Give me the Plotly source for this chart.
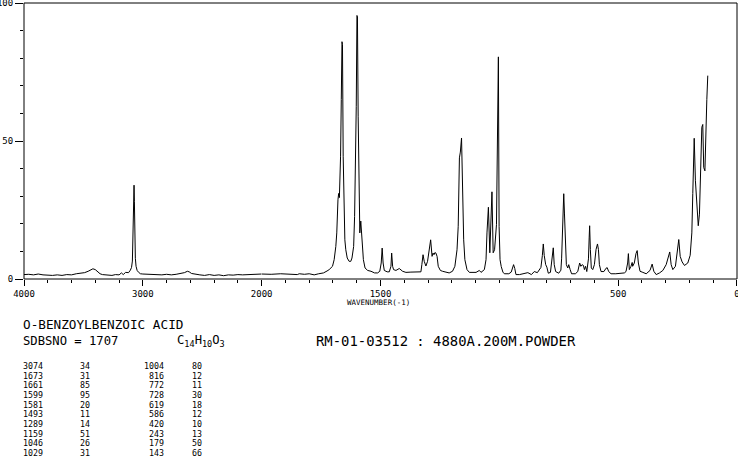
import plotly.graph_objects as go

# ---- spectrum (wavenumber in cm-1, relative intensity) ----
wavenumber = [
    4000, 3960, 3920, 3880, 3840, 3800, 3760, 3720, 3680, 3640, 3600, 3560, 3520, 3490,
    3460, 3440, 3420, 3400, 3380, 3360, 3340, 3300, 3260, 3230, 3200, 3180, 3165, 3145,
    3120, 3105, 3095, 3088, 3082, 3077, 3074, 3071, 3068, 3063, 3057, 3048, 3035, 3020,
    3000, 2960, 2920, 2880, 2840, 2800, 2760, 2720, 2680, 2650, 2625, 2610, 2590, 2560,
    2520, 2480, 2440, 2400, 2360, 2320, 2280, 2240, 2200, 2160, 2120, 2080, 2040, 2000,
    1960, 1920, 1880, 1850, 1842, 1820, 1800, 1779, 1760, 1740, 1725, 1716, 1702, 1695,
    1688, 1684, 1679, 1676, 1673, 1668, 1665, 1662, 1660, 1657, 1654, 1650, 1646, 1640,
    1632, 1625, 1620, 1613, 1609, 1605, 1602, 1599, 1597, 1594, 1591, 1587, 1583, 1580,
    1576, 1572, 1565, 1554, 1540, 1525, 1512, 1503, 1497, 1493, 1489, 1484, 1472, 1463,
    1456, 1453, 1449, 1445, 1435, 1421, 1407, 1393, 1372, 1351, 1330, 1326, 1321, 1316,
    1309, 1302, 1295, 1289, 1283, 1279, 1275, 1271, 1267, 1262, 1257, 1248, 1239, 1224,
    1211, 1197, 1187, 1178, 1173, 1168, 1164, 1159, 1155, 1150, 1145, 1136, 1126, 1112,
    1098, 1084, 1077, 1063, 1056, 1052, 1046, 1040, 1035, 1031, 1026, 1020, 1012, 1008,
    1004, 1001, 997, 992, 985, 979, 960, 950, 944, 940, 935, 930, 915, 900, 880, 865,
    853, 840, 825, 819, 815, 811, 805, 800, 794, 785, 777, 773, 769, 763, 750, 741,
    738, 733, 731, 729, 726, 722, 718, 712, 708, 702, 696, 680, 670, 662, 657, 652,
    646, 642, 637, 632, 625, 622, 620, 617, 613, 607, 600, 593, 587, 583, 579, 572,
    560, 551, 546, 540, 530, 510, 495, 474, 467, 460, 457, 453, 446, 441, 439, 432,
    425, 420, 415, 408, 396, 382, 366, 357, 350, 340, 326, 312, 298, 287, 283, 277,
    270, 259, 252, 245, 239, 231, 221, 207, 197, 190, 186, 183, 180, 175, 169, 163,
    158, 152, 148, 144, 140, 135, 133, 127, 123,
]
intensity = [
    1.6, 1.7, 1.5, 1.8, 1.5, 1.4, 1.3, 1.5, 1.3, 1.6, 1.5, 1.9, 2.0, 2.3,
    2.8, 3.3, 3.7, 3.4, 2.6, 1.9, 1.6, 1.4, 1.3, 1.6, 1.5, 2.2, 1.6, 2.4,
    2.3, 3.2, 4.2, 6.5, 18.0, 33.5, 34.0, 28.0, 12.0, 7.5, 4.6, 3.1, 2.4, 1.9,
    1.8, 1.7, 1.8, 1.6, 1.5, 1.7, 1.5, 1.7, 1.9, 2.3, 2.8, 2.6, 2.0, 1.7,
    1.5, 1.3, 1.6, 1.3, 1.5, 1.2, 1.5, 1.4, 1.6, 1.5, 1.6, 1.7, 1.6, 1.8,
    1.7, 1.9, 1.8, 1.6, 1.9, 1.7, 1.9, 1.5, 1.9, 2.2, 2.9, 3.4, 4.6, 7.0,
    11.8, 16.7, 28.7, 31.0, 29.5, 44.5, 65.0, 86.0, 85.0, 44.5, 23.9, 14.2, 10.6, 7.6,
    6.4, 6.4, 7.6, 11.8, 22.7, 43.3, 62.6, 95.5, 95.0, 59.0, 26.6, 16.7, 21.0, 18.0,
    11.8, 7.0, 4.0, 3.1, 2.8, 2.2, 2.2, 2.8, 5.8, 11.2, 5.8, 3.1, 2.6, 2.6,
    4.6, 9.4, 4.6, 3.4, 3.1, 3.8, 2.8, 2.4, 2.5, 2.5, 2.6, 5.2, 8.8, 6.4,
    4.7, 6.4, 10.6, 14.2, 8.2, 9.4, 8.8, 9.6, 9.4, 8.2, 4.6, 3.1, 2.8, 2.4,
    2.2, 2.8, 4.6, 10.6, 19.1, 43.9, 46.0, 51.1, 32.4, 14.2, 7.0, 3.4, 2.4, 2.4,
    2.4, 3.1, 2.4, 3.4, 7.0, 16.7, 26.0, 9.5, 22.0, 31.6, 9.5, 10.6, 19.7, 45.0,
    80.5, 19.0, 7.0, 4.5, 2.5, 1.9, 1.9, 2.5, 3.8, 5.2, 3.8, 1.6, 1.6, 1.9, 2.3, 1.6,
    2.7, 2.3, 4.2, 8.5, 12.7, 8.5, 5.2, 4.3, 2.1, 2.4, 7.3, 11.3, 5.2, 2.7, 2.1, 3.2,
    7.3, 21.5, 23.9, 30.9, 23.9, 10.7, 5.2, 4.0, 5.2, 3.4, 1.9, 1.9, 2.7, 5.8, 4.6, 5.2,
    4.9, 3.4, 4.6, 2.7, 7.3, 14.9, 19.3, 10.7, 4.0, 3.4, 5.2, 10.7, 12.7, 10.7, 5.2, 2.7,
    2.7, 3.9, 4.1, 2.7, 1.9, 1.9, 2.0, 2.2, 2.7, 5.8, 9.2, 3.4, 4.6, 6.0, 4.6, 5.8,
    9.2, 10.3, 5.8, 2.8, 2.4, 1.9, 3.1, 5.4, 2.8, 1.6, 2.2, 3.1, 5.2, 8.2, 9.8, 5.2,
    3.4, 4.6, 9.4, 14.3, 8.2, 6.2, 4.9, 5.8, 8.6, 16.7, 31.0, 49.4, 51.0, 35.6, 27.2, 19.3,
    23.5, 38.0, 55.0, 56.0, 40.4, 39.2, 49.4, 65.0, 73.7,
]

# ---- peak table ----
peak_wn_a = [3074, 1673, 1661, 1599, 1581, 1493, 1289, 1159, 1046, 1029]
peak_int_a = [34, 31, 85, 95, 20, 11, 14, 51, 26, 31]
peak_wn_b = [1004, 816, 772, 728, 619, 586, 420, 243, 179, 143]
peak_int_b = [80, 12, 11, 30, 18, 12, 10, 13, 50, 66]

# ---- axis ticks ----
x_ticks_high = [4000, 3000, 2000]
x_ticks_low = [1500, 500, 0]
y_ticks = [0, 50, 100]

compound = "O-BENZOYLBENZOIC ACID"
sdbs_line = "SDBSNO = 1707"
formula = "C<sub>14</sub>H<sub>10</sub>O<sub>3</sub>"
sample_line = "RM-01-03512 : 4880A.200M.POWDER"

W, H = 738, 457
ML, MR, MT, MB = 24, 1, 3, 178
PW, PH = W - ML - MR, H - MT - MB
MONO = "DejaVu Sans Mono"

hi = [(w, i) for w, i in zip(wavenumber, intensity) if w >= 2000]
lo = [(w, i) for w, i in zip(wavenumber, intensity) if w <= 2000]

fig = go.Figure()
fig.add_trace(go.Scatter(x=[p[0] for p in hi], y=[p[1] for p in hi], mode="lines",
                         line=dict(color="black", width=1), xaxis="x", yaxis="y",
                         showlegend=False, hoverinfo="skip"))
fig.add_trace(go.Scatter(x=[p[0] for p in lo], y=[p[1] for p in lo], mode="lines",
                         line=dict(color="black", width=1), xaxis="x2", yaxis="y",
                         showlegend=False, hoverinfo="skip"))

tickfont = dict(family=MONO, size=9, color="black")
common_x = dict(showgrid=False, zeroline=False, showline=False, ticks="outside",
                tickcolor="black", tickwidth=1, ticklen=6, tickfont=tickfont, anchor="y",
                automargin=False, ticklabeloverflow="allow")

fig.update_layout(
    width=W, height=H,
    margin=dict(l=ML, r=MR, t=MT, b=MB, pad=0, autoexpand=False),
    paper_bgcolor="white", plot_bgcolor="white",
    xaxis=dict(domain=[0, 1 / 3], range=[4000, 2000], tickvals=x_ticks_high,
               ticktext=[str(v) for v in x_ticks_high],
               minor=dict(dtick=200, tick0=0, ticks="outside", ticklen=3,
                          tickcolor="black", tickwidth=1), **common_x),
    xaxis2=dict(domain=[1 / 3, 1], range=[2000, -0.02], tickvals=x_ticks_low,
                ticktext=[str(v) for v in x_ticks_low],
                minor=dict(dtick=100, tick0=0, ticks="outside", ticklen=3,
                           tickcolor="black", tickwidth=1), **common_x),
    yaxis=dict(domain=[0, 1], range=[0, 100.02], tickvals=y_ticks,
               ticktext=[str(v) for v in y_ticks], showgrid=False, zeroline=False,
               showline=False, ticks="outside", ticklen=8, tickcolor="black",
               tickwidth=1, tickfont=tickfont, automargin=False,
               ticklabeloverflow="allow",
               minor=dict(dtick=10, tick0=0, ticks="outside", ticklen=3,
                          tickcolor="black", tickwidth=1)),
    shapes=[dict(type="rect", xref="paper", yref="paper", x0=0, x1=1, y0=0, y1=1,
                 line=dict(color="black", width=1))],
)


def px(x):
    return (x - ML) / PW


def py(y):
    return (H - MB - y) / PH


def add_text(text, x, y, size, anchor="left"):
    fig.add_annotation(text=text, x=px(x), y=py(y), xref="paper", yref="paper",
                       xanchor=anchor, yanchor="middle", showarrow=False,
                       font=dict(family=MONO, size=size, color="black"))


add_text("WAVENUMBER(-1)", 378, 302, 7.5, anchor="center")
add_text(compound, 21, 324, 12.7)
add_text(sdbs_line, 21, 341, 12.2)
add_text(formula, 175, 341, 12.2)
add_text(sample_line, 314, 341, 13.9)

row_y0, row_dy = 366, 9.67
for k in range(len(peak_wn_a)):
    yy = row_y0 + k * row_dy
    add_text(str(peak_wn_a[k]), 21, yy, 8.3)
    add_text(str(peak_int_a[k]), 78, yy, 8.3)
    add_text(str(peak_wn_b[k]), 166, yy, 8.3, anchor="right")
    add_text(str(peak_int_b[k]), 190, yy, 8.3)

fig.write_html(
    "out.html",
    config={"displayModeBar": False},
    post_script="document.body.style.margin='0';document.body.style.padding='0';",
)
